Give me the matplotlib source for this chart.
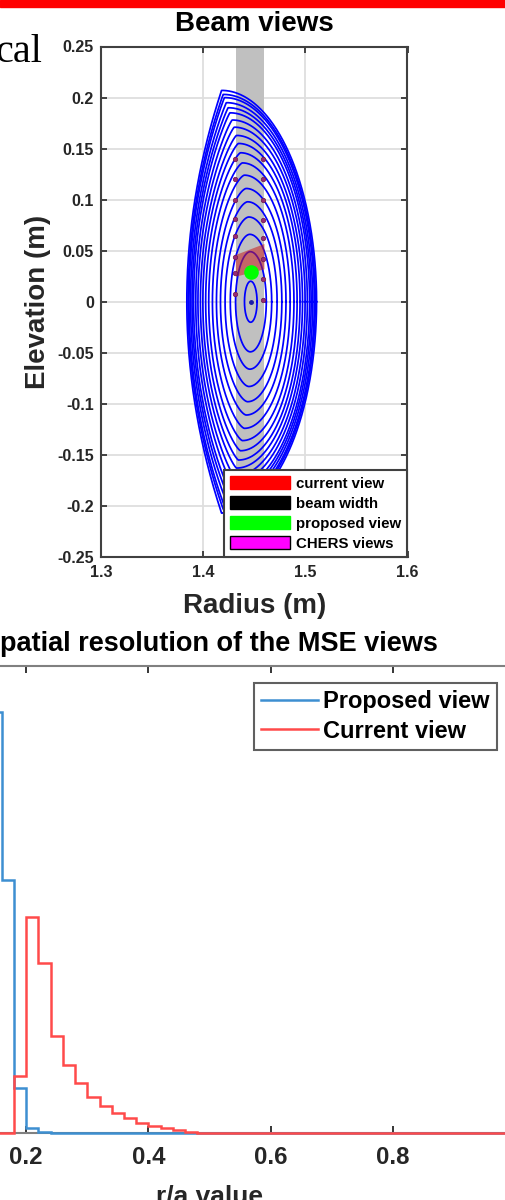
import numpy as np
import matplotlib
matplotlib.use("Agg")
import matplotlib.pyplot as plt
from matplotlib.patches import Patch, Rectangle, Polygon

plt.rcParams['font.family'] = ['Liberation Sans', 'DejaVu Sans']
plt.rcParams['font.weight'] = 'bold'

# ---------------- Beam views: equilibrium flux surfaces ----------------
# normalised minor radius of each plotted flux surface
flux_rho = [0.097, 0.237, 0.319, 0.401, 0.473, 0.536, 0.599, 0.657, 0.705,
            0.749, 0.787, 0.826, 0.860, 0.894, 0.918, 0.942, 0.966, 0.981, 1.0]
axis_R, axis_z = 1.4465, 0.0
edge_half_height = 0.207     # vertical extent of the last closed surface
edge_inboard = 0.0625        # axis -> inboard midplane
edge_outboard = 0.0645       # axis -> outboard midplane
edge_tip_shift = 0.0285      # inward shift of the upper/lower tips

beam_R = (1.432, 1.460)
current_view_R = [1.432, 1.460, 1.460, 1.432]
current_view_z = [0.0245, 0.0318, 0.0566, 0.0458]
proposed_view_R, proposed_view_z = 1.4473, 0.029
chers_left_R, chers_right_R = 1.431, 1.4587
chers_left_z = [0.140, 0.120, 0.100, 0.081, 0.064, 0.044, 0.028, 0.008]
chers_right_z = [0.140, 0.120, 0.100, 0.080, 0.062, 0.042, 0.022, 0.002]

legend_labels_top = ['current view', 'beam width', 'proposed view', 'CHERS views']
x_ticks_top = [1.3, 1.4, 1.5, 1.6]
y_ticks_top = [0.25, 0.2, 0.15, 0.1, 0.05, 0, -0.05, -0.1, -0.15, -0.2, -0.25]

# ---------------- Spatial resolution histograms ----------------
bin_edges = np.round(np.linspace(0.0, 1.0, 51), 2)
proposed_counts = [0] * 7 + [2254, 1354, 241, 27, 5] + [0] * 38
current_counts = [0] * 9 + [305, 1156, 910, 519, 364, 268, 193, 145, 107,
                            80, 54, 37, 27, 16, 5] + [0] * 26
x_ticks_bottom = [0, 0.2, 0.4, 0.6, 0.8, 1]
x_ticklabels_bottom = ['', '0.2', '0.4', '0.6', '0.8', '']

W, H = 506, 1200
fig = plt.figure(figsize=(W / 100, H / 100), dpi=100)


def px_rect(x0, y0, x1, y1):
    """Pixel box (top-left origin) -> figure fraction rectangle."""
    return [x0 / W, 1 - y1 / H, (x1 - x0) / W, (y1 - y0) / H]


def flux_surface(rho, theta):
    """Teardrop-shaped surface: elliptic on the outboard side, pointed tips
    shifted inward, flattening to a parabola-like inboard edge."""
    s = rho ** 2
    d = edge_tip_shift * rho * s
    c = np.cos(theta)
    tip = axis_R - d
    R = np.where(c >= 0,
                 tip + (edge_outboard * rho + d) * c,
                 tip - (edge_inboard * rho - d) * np.abs(c) ** (1 + s))
    z = axis_z + edge_half_height * rho * np.sin(theta)
    return R, z


# slide decorations
fig.patches.append(Rectangle((0, 1 - 6.7 / H), 1, 6.7 / H, transform=fig.transFigure,
                             color='#ff0000', zorder=10))
fig.text(42.5 / W, 1 - 61.7 / H, 'cal', family=['Liberation Serif'], weight='normal',
         fontsize=29, ha='right', va='baseline', color='black')

tick_color = '#262626'

# ---------------- top panel ----------------
ax1 = fig.add_axes(px_rect(101, 46.5, 407.5, 557))
ax1.set_xlim(1.3, 1.6)
ax1.set_ylim(-0.25, 0.25)
ax1.set_axisbelow(True)
ax1.grid(True, color='#dedede', lw=1.3)

ax1.axvspan(beam_R[0], beam_R[1], color='#c0c0c0', lw=0, zorder=1)

theta = np.linspace(0, 2 * np.pi, 1201)
for rho in flux_rho:
    R, z = flux_surface(rho, theta)
    ax1.plot(R, z, color='#0000ff', lw=1.25, zorder=2)
ax1.plot([axis_R], [axis_z], 'o', color='#1c1ca8', ms=2.5, zorder=2)

ax1.add_patch(Polygon(list(zip(current_view_R, current_view_z)), closed=True,
                      facecolor='#c81e1e', edgecolor='none', alpha=0.55, zorder=3))
ax1.plot([chers_left_R] * len(chers_left_z), chers_left_z, 'o', ms=3.2,
         mfc='#9a2a72', mec='#6a1a4a', mew=0.5, zorder=4)
ax1.plot([chers_right_R] * len(chers_right_z), chers_right_z, 'o', ms=3.2,
         mfc='#9a2a72', mec='#6a1a4a', mew=0.5, zorder=4)
ax1.plot([proposed_view_R], [proposed_view_z], 'o', ms=9.5, color='#00ff00', zorder=5)

ax1.set_xticks(x_ticks_top)
ax1.set_xticklabels([f'{v:g}' for v in x_ticks_top])
ax1.set_yticks(y_ticks_top)
ax1.set_yticklabels([f'{v:g}' for v in y_ticks_top])
ax1.tick_params(direction='in', top=True, right=True, length=4, width=1.2,
                labelsize=11.6, colors=tick_color, pad=5)
ax1.tick_params(axis='x', pad=6)
for s in ax1.spines.values():
    s.set_color('#404040')
    s.set_linewidth(1.5)
ax1.set_title('Beam views', fontsize=20, fontweight='bold', pad=11.4)
ax1.set_xlabel('Radius (m)', fontsize=20, fontweight='bold', color=tick_color)
ax1.set_ylabel('Elevation (m)', fontsize=20, fontweight='bold', color=tick_color)
ax1.xaxis.set_label_coords(0.5, -0.071)
ax1.yaxis.set_label_coords(-0.163, 0.5)

handles_top = [Patch(facecolor='#ff0000', edgecolor='#ff0000'),
               Patch(facecolor='#000000', edgecolor='#000000'),
               Patch(facecolor='#00ff00', edgecolor='#00ff00'),
               Patch(facecolor='#ff00ff', edgecolor='#000000')]
leg1 = ax1.legend(handles_top, legend_labels_top, loc='lower right', bbox_to_anchor=(1, 0),
                  borderaxespad=0, fancybox=False, framealpha=1, edgecolor='#404040',
                  prop={'size': 10.8, 'weight': 'bold'}, handlelength=4.0, handleheight=0.95,
                  handletextpad=0.4, labelspacing=0.36, borderpad=0.4)
leg1.get_frame().set_linewidth(1.5)

# ---------------- bottom panel ----------------
ax2 = fig.add_axes(px_rect(-96, 666, 515, 1133))
ax2.set_xlim(0, 1)
ax2.set_ylim(0, 2500)
ax2.stairs(proposed_counts, bin_edges, color='#3d8fd1', lw=1.8, label='Proposed view',
           clip_on=False, zorder=3)
ax2.stairs(current_counts, bin_edges, color='#ff4a4a', lw=1.8, label='Current view',
           clip_on=False, zorder=4)
ax2.set_xticks(x_ticks_bottom)
ax2.set_xticklabels(x_ticklabels_bottom)
ax2.set_yticks([])
ax2.tick_params(direction='in', top=True, length=5, width=1.3,
                labelsize=17.3, colors=tick_color, pad=9)
for s in ax2.spines.values():
    s.set_color('#808080')
    s.set_linewidth(1.5)
ax2.set_title('Spatial resolution of the MSE views', fontsize=19.5, fontweight='bold', pad=10.8)
ax2.set_xlabel('r/a value', fontsize=19, fontweight='bold', color=tick_color)
ax2.xaxis.set_label_coords(0.5, -0.111)

leg2 = ax2.legend(loc='upper right', bbox_to_anchor=(497 / W, 1 - 683 / H),
                  bbox_transform=fig.transFigure, borderaxespad=0, fancybox=False,
                  framealpha=1, edgecolor='#606060', prop={'size': 17, 'weight': 'bold'},
                  handlelength=2.4, handletextpad=0.25, labelspacing=0.28, borderpad=0.3)
leg2.get_frame().set_linewidth(1.5)

fig.savefig('out.png', dpi=100)
